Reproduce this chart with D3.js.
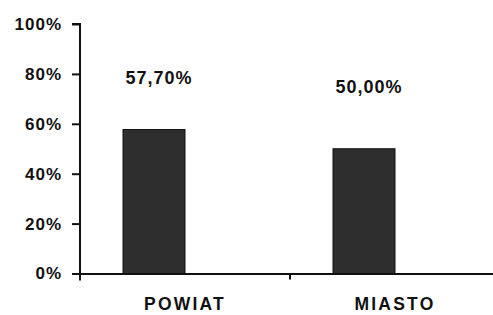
<!DOCTYPE html>
<html>
<head>
<meta charset="utf-8">
<script src="https://d3js.org/d3.v7.min.js"></script>
<style>
  body { margin: 0; background: #fff; }
  text { font-family: "Liberation Sans", Arial, sans-serif; font-weight: bold; fill: #111; }
</style>
</head>
<body>
<svg width="493" height="315"></svg>
<script>
// chart data
const categories = ["POWIAT", "MIASTO"];
const values = [0.577, 0.50];
const valueLabels = ["57,70%", "50,00%"];
const yTicks = [0, 0.2, 0.4, 0.6, 0.8, 1.0];

const svg = d3.select("svg");

const plotLeft = 80, plotRight = 500, plotTop = 24, plotBottom = 273.5;

const x = d3.scaleBand().domain(categories).range([plotLeft, plotRight]);
const y = d3.scaleLinear().domain([0, 1]).range([plotBottom, plotTop]);

const barW = 62;
const barShift = -31; // bars sit a bit left of the band centre

// bars
svg.append("g")
  .selectAll("rect")
  .data(values)
  .enter()
    .append("rect")
      .attr("x", (d, i) => x(categories[i]) + x.bandwidth() / 2 + barShift - barW / 2)
      .attr("y", d => y(d))
      .attr("width", barW)
      .attr("height", d => y(0) - y(d))
      .attr("fill", "#2e2e2e")
      .attr("stroke", "#111")
      .attr("stroke-width", 1);

// value labels
svg.append("g")
  .selectAll("text")
  .data(values)
  .enter()
    .append("text")
      .attr("x", (d, i) => x(categories[i]) + x.bandwidth() / 2 + barShift + 5)
      .attr("y", d => (y(d) + 38) / 2)
      .attr("text-anchor", "middle")
      .attr("font-size", 18)
      .attr("letter-spacing", 1)
      .text((d, i) => valueLabels[i]);

// y axis
const yAxis = d3.axisLeft(y)
  .tickValues(yTicks)
  .tickSize(8)
  .tickPadding(10)
  .tickFormat(d3.format(".0%"));

const gy = svg.append("g")
  .attr("transform", `translate(${plotLeft},0)`)
  .call(yAxis);
gy.select(".domain").attr("d", `M-8,${plotTop}H0V${plotBottom + 7}`).attr("stroke", "#111").attr("stroke-width", 2);
gy.selectAll(".tick line").attr("stroke", "#111").attr("stroke-width", 2);
gy.selectAll(".tick text")
  .attr("font-size", 17)
  .attr("letter-spacing", 1)
  .attr("font-family", "Liberation Sans, Arial, sans-serif")
  .attr("font-weight", "bold")
  .attr("fill", "#111");

// x axis
const xAxis = d3.axisBottom(x).tickSize(0).tickPadding(24);
const gx = svg.append("g")
  .attr("transform", `translate(0,${plotBottom})`)
  .call(xAxis);
gx.select(".domain").attr("stroke", "#111").attr("stroke-width", 2);
gx.selectAll(".tick text")
  .attr("font-size", 17.5)
  .attr("letter-spacing", 2.2)
  .attr("font-family", "Liberation Sans, Arial, sans-serif")
  .attr("font-weight", "bold")
  .attr("fill", "#111")
  .attr("dy", "0.71em");

// separator ticks between categories
gx.selectAll("line.sep")
  .data(categories.slice(1))
  .enter()
    .append("line")
      .attr("class", "sep")
      .attr("x1", d => x(d))
      .attr("x2", d => x(d))
      .attr("y1", 0)
      .attr("y2", 6)
      .attr("stroke", "#111")
      .attr("stroke-width", 2);
</script>
</body>
</html>
